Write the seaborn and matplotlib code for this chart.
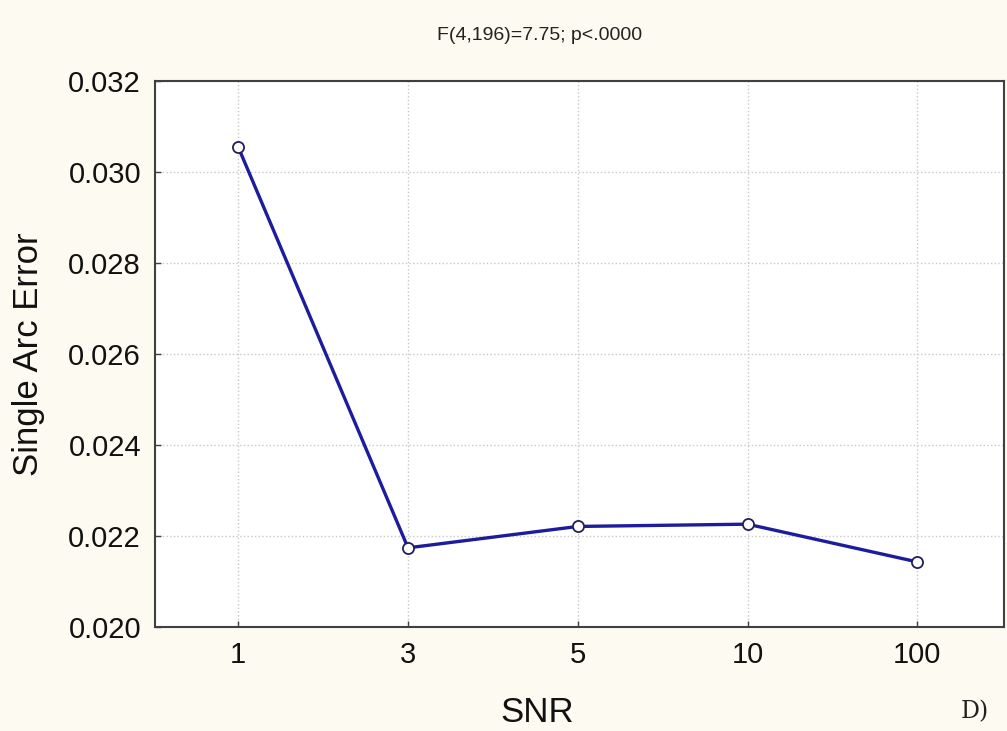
import matplotlib
matplotlib.use("Agg")
import matplotlib.pyplot as plt
import seaborn as sns
import pandas as pd

snr_labels = ["1", "3", "5", "10", "100"]
error_values = [0.03055, 0.02174, 0.02221, 0.02226, 0.02143]
y_ticks = [0.020, 0.022, 0.024, 0.026, 0.028, 0.030, 0.032]

sns.set_theme(style="ticks")
plt.rcParams['font.family'] = ['Liberation Sans', 'DejaVu Sans']

df = pd.DataFrame({"SNR": snr_labels, "err": error_values})

fig = plt.figure(figsize=(10.07, 7.31), dpi=100, facecolor="#fdfaf1")
ax = fig.add_axes([155/1007, 1 - 627/731, (1004-155)/1007, (627-81)/731])
ax.set_facecolor("white")

sns.pointplot(data=df, x="SNR", y="err", ax=ax, color="#1c1c9c",
              markers="o", linestyles="-", errorbar=None,
              markersize=8, linewidth=2.4,
              markerfacecolor="white", markeredgecolor="#20205a",
              markeredgewidth=1.3)

ax.set_xlim(-0.49, 4.51)
ax.set_ylim(0.020, 0.032)
ax.set_yticks(y_ticks)
ax.set_yticklabels([f"{v:.3f}" for v in y_ticks])
ax.grid(True, color="#c8c8c8", linestyle=":", linewidth=1)
ax.set_axisbelow(True)
for s in ax.spines.values():
    s.set_color("#404040")
    s.set_linewidth(1.5)
ax.tick_params(direction="in", length=4, width=1, color="#404040",
               labelsize=21, labelcolor="#111111", pad=10)
ax.set_xlabel("")
ax.set_ylabel("Single Arc Error", fontsize=25, color="#111111", labelpad=17)

fig.text(537/1007, 1 - 712/731, "SNR", fontsize=25,
         ha="center", va="center", color="#111111")
fig.text(540/1007, 1 - 35/731, "F(4,196)=7.75; p<.0000", fontsize=14,
         ha="center", va="center", color="#222222")
fig.text(975/1007, 1 - 712/731, "D)", fontsize=17, family="DejaVu Serif",
         ha="center", va="center", color="#222222")

fig.savefig("out.png", dpi=100, facecolor=fig.get_facecolor())
